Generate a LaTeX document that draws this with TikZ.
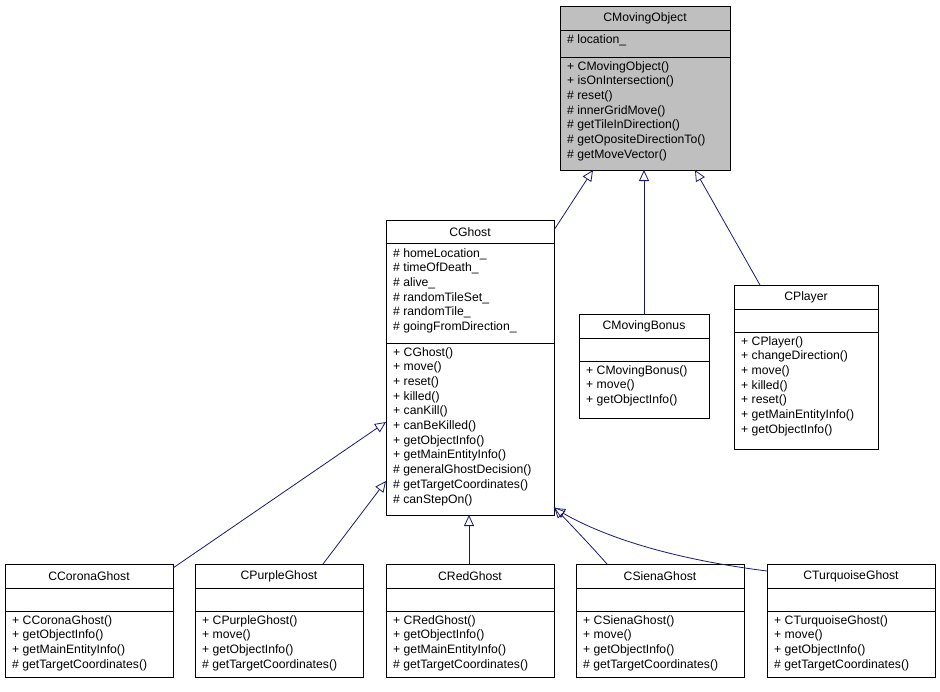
\documentclass[tikz,border=0pt]{standalone}
\usepackage{fontspec}
\setmainfont{Liberation Sans}
\usetikzlibrary{arrows.meta}
\begin{document}
\begin{tikzpicture}[x=1pt,y=-1pt,
  box/.style={draw=black,line width=0.8pt},
  ttl/.style={font=\fontsize{12.2}{14.7}\selectfont,inner sep=0},
  mem/.style={font=\fontsize{12.2}{14.7}\selectfont,anchor=north west,align=left,inner sep=0},
  inh/.style={draw={rgb,255:red,25;green,25;blue,112},line width=0.8pt,-{Triangle[open,length=11pt,width=10pt]}}]
\useasboundingbox (0,0) rectangle (940,691);
% CMovingObject
\fill[gray!50] (560,6) rectangle (730,170);
\draw[box] (560,6) rectangle (730,170) (560,30)--(730,30) (560,57)--(730,57);
\node[ttl] (mo) at (645,18) {CMovingObject};
\node[mem] (mo1) at (567,34) {\# location\_};
\node[mem] (mo2) at (567,61) {+ CMovingObject()\\+ isOnIntersection()\\\# reset()\\\# innerGridMove()\\\# getTileInDirection()\\\# getOpositeDirectionTo()\\\# getMoveVector()};
\coordinate (moB) at (645,170);
% CGhost
\draw[box] (386,220) rectangle (554,515) (386,243)--(554,243) (386,343)--(554,343);
\node[ttl] (g) at (470,232) {CGhost};
\node[mem] (g1) at (393,248) {\# homeLocation\_\\\# timeOfDeath\_\\\# alive\_\\\# randomTileSet\_\\\# randomTile\_\\\# goingFromDirection\_};
\node[mem] (g2) at (393,347) {+ CGhost()\\+ move()\\+ reset()\\+ killed()\\+ canKill()\\+ canBeKilled()\\+ getObjectInfo()\\+ getMainEntityInfo()\\\# generalGhostDecision()\\\# getTargetCoordinates()\\\# canStepOn()};
% CMovingBonus
\draw[box] (579,314) rectangle (709,418) (579,338)--(709,338) (579,361)--(709,361);
\node[ttl] (mb) at (644,326) {CMovingBonus};
\node[mem] (mb2) at (586,365) {+ CMovingBonus()\\+ move()\\+ getObjectInfo()};
% CPlayer
\draw[box] (734,285) rectangle (878,449) (734,309)--(878,309) (734,332)--(878,332);
\node[ttl] (p) at (806,297) {CPlayer};
\node[mem] (p2) at (741,336) {+ CPlayer()\\+ changeDirection()\\+ move()\\+ killed()\\+ reset()\\+ getMainEntityInfo()\\+ getObjectInfo()};
% bottom
\foreach \n/\x/\t/\m in {c/5/CCoronaGhost/{+ CCoronaGhost()\\+ getObjectInfo()\\+ getMainEntityInfo()\\\# getTargetCoordinates()},
  pu/195/CPurpleGhost/{+ CPurpleGhost()\\+ move()\\+ getObjectInfo()\\\# getTargetCoordinates()},
  r/386/CRedGhost/{+ CRedGhost()\\+ getObjectInfo()\\+ getMainEntityInfo()\\\# getTargetCoordinates()},
  s/576/CSienaGhost/{+ CSienaGhost()\\+ move()\\+ getObjectInfo()\\\# getTargetCoordinates()},
  t/767/CTurquoiseGhost/{+ CTurquoiseGhost()\\+ move()\\+ getObjectInfo()\\\# getTargetCoordinates()}}{
  \draw[box] (\x,564) rectangle (\x+168,677) (\x,588)--(\x+168,588) (\x,611)--(\x+168,611);
  \node[ttl] (\n) at (\x+84,576) {\t};
  \node[mem] (\n m) at (\x+7,615) {\m};
}
\coordinate (gR) at (554,230);
\draw[inh] (gR) -- (593,170);
\coordinate (mbT) at (644,314);
\draw[inh] (mbT) -- (644,170);
\coordinate (pT) at (760,285);
\draw[inh] (pT) -- (695,170);
\draw[inh] (173,568) -- (386,422);
\draw[inh] (323,564) -- (386,481);
\draw[inh] (469,564) -- (469,515);
\draw[inh] (607,564) .. controls (590,545) .. (554,507);
\draw[inh] (767,571) .. controls (680,560) and (610,540) .. (554,508);
\end{tikzpicture}
\end{document}
